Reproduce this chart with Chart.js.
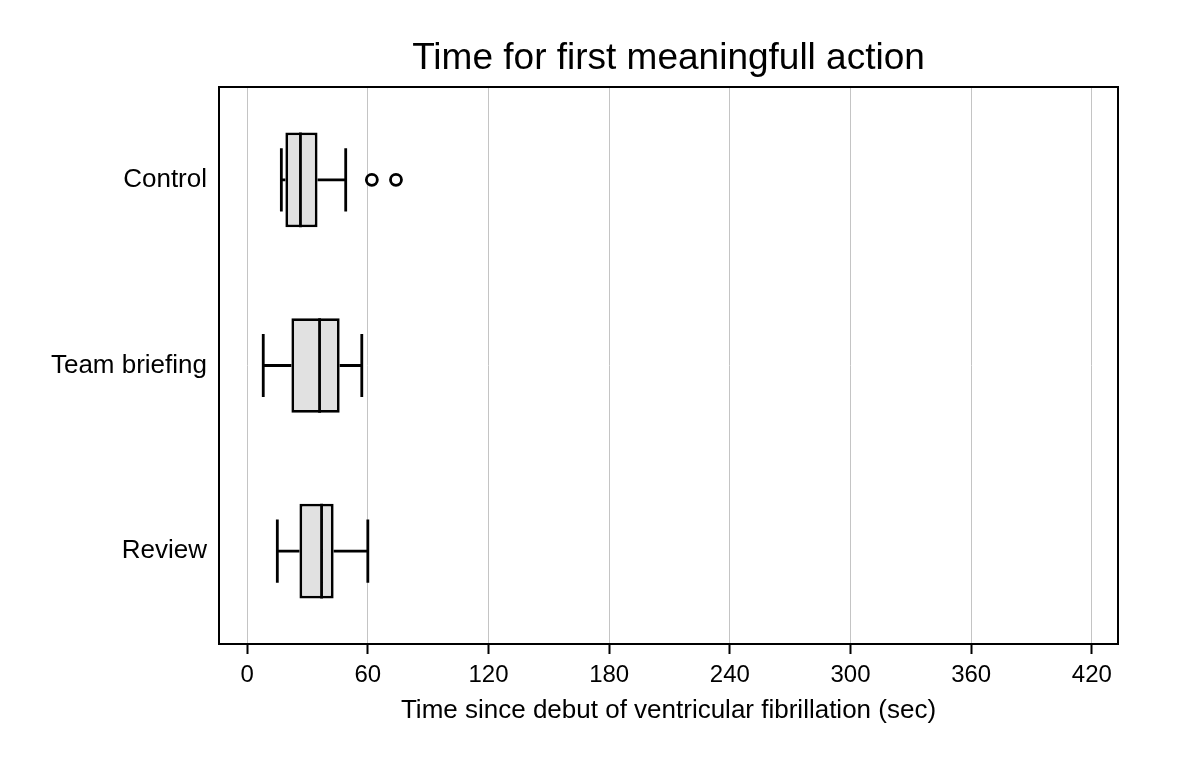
<!DOCTYPE html>
<html>
<head>
<meta charset="utf-8">
<script src="https://cdn.jsdelivr.net/npm/chart.js@4.4.0/dist/chart.umd.min.js"></script>
<style>
  html, body { margin: 0; padding: 0; background: #fff; }
  #wrap { width: 1200px; height: 766px; }
</style>
</head>
<body>
<div id="wrap"><canvas id="boxChart" width="1200" height="766"></canvas></div>
<script>
// Box plot values (seconds)
const categories = ['Control', 'Team briefing', 'Review'];
const whiskerLow = [17, 8, 15];
const q1 = [19, 22, 26];
const median = [26.5, 36, 37];
const q3 = [35, 46, 43];
const whiskerHigh = [49, 57, 60];
const outlierCats = [0, 0];
const outlierVals = [62, 74];
const xTicks = [0, 60, 120, 180, 240, 300, 360, 420];

const FONT = "'Liberation Sans', Arial, sans-serif";
const BOX_FILL = '#e1e1e1';
const LINE_W = 2.8;

// whiskers, medians, outliers and the frame round the plot
const boxExtras = {
    id: 'boxExtras',
    afterDatasetsDraw(chart) {
        const ctx = chart.ctx;
        const x = chart.scales.x;
        const y = chart.scales.y;
        const area = chart.chartArea;
        const step = y.getPixelForValue(1) - y.getPixelForValue(0);
        const capHalf = step * 0.17;
        const boxHalf = step * 0.51 / 2;

        ctx.save();
        ctx.strokeStyle = '#000';
        ctx.lineWidth = LINE_W;
        for (let i = 0; i < categories.length; i++) {
            const cy = y.getPixelForValue(i);
            const lo = x.getPixelForValue(whiskerLow[i]);
            const hi = x.getPixelForValue(whiskerHigh[i]);
            const md = x.getPixelForValue(median[i]);
            ctx.beginPath();
            ctx.moveTo(lo, cy);
            ctx.lineTo(x.getPixelForValue(q1[i]), cy);
            ctx.moveTo(x.getPixelForValue(q3[i]), cy);
            ctx.lineTo(hi, cy);
            ctx.moveTo(lo, cy - capHalf);
            ctx.lineTo(lo, cy + capHalf);
            ctx.moveTo(hi, cy - capHalf);
            ctx.lineTo(hi, cy + capHalf);
            ctx.moveTo(md, cy - boxHalf);
            ctx.lineTo(md, cy + boxHalf);
            ctx.stroke();
        }
        for (let j = 0; j < outlierVals.length; j++) {
            ctx.beginPath();
            ctx.arc(x.getPixelForValue(outlierVals[j]), y.getPixelForValue(outlierCats[j]), 5.5, 0, Math.PI * 2);
            ctx.fillStyle = '#fff';
            ctx.fill();
            ctx.stroke();
        }
        ctx.lineWidth = 2;
        ctx.strokeRect(area.left, area.top, area.right - area.left, area.bottom - area.top);
        ctx.restore();
    }
};

const ctx = document.getElementById('boxChart').getContext('2d');
window.boxChart = new Chart(ctx, {
    type: 'bar',
    data: {
        labels: categories,
        datasets: [{
            label: 'box',
            data: categories.map((c, i) => [q1[i], q3[i]]),
            backgroundColor: BOX_FILL,
            borderColor: '#000',
            borderWidth: LINE_W,
            borderSkipped: false
        }]
    },
    options: {
        indexAxis: 'y',
        responsive: false,
        animation: false,
        categoryPercentage: 1,
        barPercentage: 0.51,
        layout: { padding: { left: 0, right: 82, top: 0, bottom: 40 } },
        scales: {
            x: {
                min: -14,
                max: 433,
                afterBuildTicks: (scale) => { scale.ticks = xTicks.map(v => ({ value: v })); },
                afterFit: (scale) => { scale.height = 82; },
                grid: { color: '#c4c4c4', lineWidth: 1, tickColor: '#000', tickLength: 10, tickWidth: 2 },
                border: { display: false },
                ticks: { color: '#000', font: { family: FONT, size: 24 }, padding: 7, maxRotation: 0 },
                title: {
                    display: true,
                    text: 'Time since debut of ventricular fibrillation (sec)',
                    color: '#000',
                    font: { family: FONT, size: 26 },
                    padding: { top: 0, bottom: 0 }
                }
            },
            y: {
                afterFit: (scale) => { scale.width = 219; },
                grid: { display: false, drawTicks: false },
                border: { display: false },
                ticks: { color: '#000', font: { family: FONT, size: 26 }, padding: 12 }
            }
        },
        plugins: {
            legend: { display: false },
            tooltip: { enabled: false },
            title: {
                display: true,
                fullSize: false,
                text: 'Time for first meaningfull action',
                color: '#000',
                font: { family: FONT, size: 37, weight: 'normal' },
                padding: { top: 37, bottom: 5.6 }
            }
        }
    },
    plugins: [boxExtras]
});
</script>
</body>
</html>
